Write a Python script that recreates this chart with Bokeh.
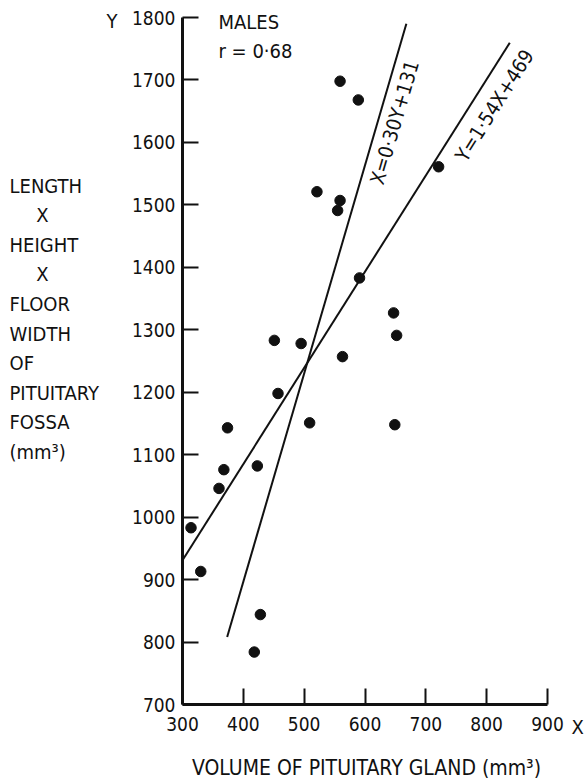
import math
from bokeh.plotting import figure
from bokeh.models import Range1d, FixedTicker, ColumnDataSource
from bokeh.core.properties import value
from bokeh.embed import file_html
from bokeh.resources import INLINE

# ---- data ----
gland_volume = [559, 589, 721, 521, 559, 555, 591, 647, 652, 451, 495, 563, 457,
                509, 649, 374, 423, 368, 360, 314, 330, 428, 418]
fossa_volume = [1698, 1668, 1561, 1521, 1507, 1491, 1383, 1327, 1291, 1283, 1278,
                1257, 1198, 1151, 1148, 1143, 1082, 1076, 1046, 983, 913, 844, 784]

# regression Y = 1.54 X + 469, drawn for X in [300, 838]
reg_y_on_x = {"slope": 1.54, "intercept": 469, "x_from": 300, "x_to": 838}
# regression X = 0.30 Y + 131, drawn for Y in [808, 1790]
reg_x_on_y = {"slope": 0.30, "intercept": 131, "y_from": 808, "y_to": 1790}

x_ticks = [300, 400, 500, 600, 700, 800, 900]
y_ticks = [700, 800, 900, 1000, 1100, 1200, 1300, 1400, 1500, 1600, 1700, 1800]

y_title_lines = ["LENGTH", "X", "HEIGHT", "X", "FLOOR", "WIDTH", "OF",
                 "PITUITARY", "FOSSA", "(mm³)"]
x_title = "VOLUME OF PITUITARY  GLAND  (mm³)"

# ---- layout ----
FONT = "DejaVu Sans Condensed"
INK = "#111111"
W, H = 587, 784
X0, X1, Y0, Y1 = 300, 900, 700, 1800
FL, FT, FW, FH = 182, 17, 365, 687   # axis box left, top, width, height in px


def px_x(px):
    return X0 + (px - FL) * (X1 - X0) / FW


def px_y(py):
    return Y1 - (py - FT) * (Y1 - Y0) / FH


p = figure(frame_width=W, frame_height=H, output_backend="svg",
           toolbar_location=None,
           x_range=Range1d(px_x(0), px_x(W)), y_range=Range1d(px_y(H), px_y(0)))
p.min_border = 0
p.min_border_left = 0
p.min_border_right = 0
p.min_border_top = 0
p.min_border_bottom = 0
p.outline_line_color = None
p.background_fill_color = "white"
p.border_fill_color = "white"
p.grid.visible = False

for ax in (p.xaxis[0], p.yaxis[0]):
    ax.axis_line_width = 3
    ax.axis_line_color = INK
    ax.major_tick_line_width = 2
    ax.major_tick_line_color = INK
    ax.major_tick_in = 16
    ax.major_tick_out = 0
    ax.minor_tick_line_color = None
    ax.major_label_text_font = FONT
    ax.major_label_text_font_size = "19px"
    ax.major_label_text_color = INK

p.xaxis.fixed_location = Y0
p.xaxis.bounds = (X0, X1)
p.yaxis.fixed_location = X0
p.yaxis.bounds = (Y0, Y1)
p.xaxis.ticker = FixedTicker(ticks=x_ticks)
p.yaxis.ticker = FixedTicker(ticks=y_ticks)
p.xaxis.major_label_standoff = 12
p.yaxis.major_label_standoff = 7

# regression lines
lx = [reg_y_on_x["x_from"], reg_y_on_x["x_to"]]
ly = [reg_y_on_x["slope"] * v + reg_y_on_x["intercept"] for v in lx]
p.line(lx, ly, line_color=INK, line_width=2)

my = [reg_x_on_y["y_from"], reg_x_on_y["y_to"]]
mx = [reg_x_on_y["slope"] * v + reg_x_on_y["intercept"] for v in my]
p.line(mx, my, line_color=INK, line_width=2)

# points
src = ColumnDataSource(dict(x=gland_volume, y=fossa_volume))
p.scatter("x", "y", source=src, size=10.5, marker="circle",
          fill_color=INK, line_color=INK)


def add_text(txt, px, py, align="left", angle=0.0, size="20px"):
    p.text(x=[px_x(px)], y=[px_y(py)], text=[txt], angle=angle,
           text_font=value(FONT), text_font_size=size, text_color=INK,
           text_align=align, text_baseline="middle")


add_text("MALES", 218, 21)
add_text("r = 0·68", 218, 50)
add_text("X=0·30Y+131", 394, 122, align="center", angle=math.radians(73.7))
add_text("Y=1·54X+469", 494, 105, align="center", angle=math.radians(57.7))
add_text("Y", 106, 20)
add_text("X", 571, 726)
add_text(x_title, 372, 767, align="center", size="21px")
for i, line in enumerate(y_title_lines):
    if line == "X":
        add_text(line, 42, 185 + 29.6 * i, align="center")
    else:
        add_text(line, 9, 185 + 29.6 * i)

open("out.html", "w").write(file_html(p, INLINE))
